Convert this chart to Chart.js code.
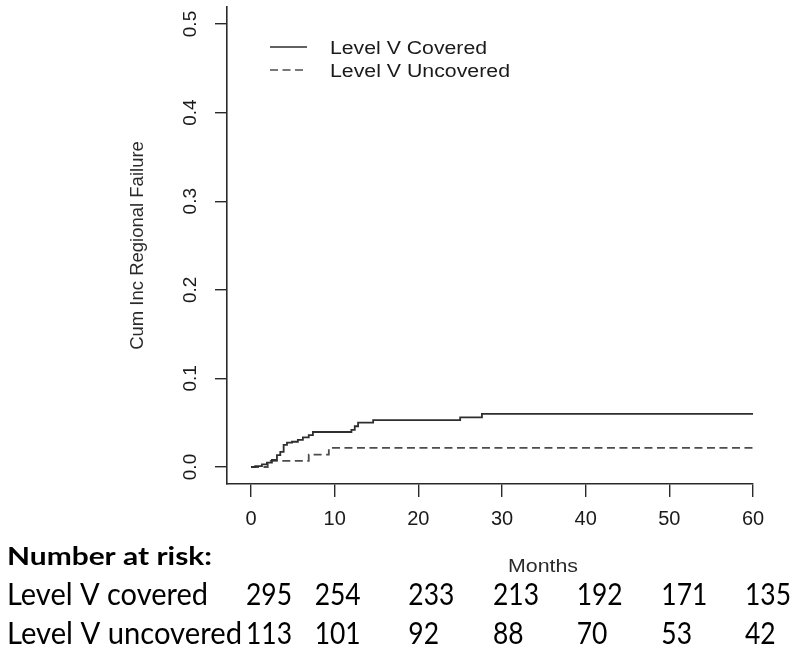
<!DOCTYPE html>
<html><head><meta charset="utf-8">
<script src="https://cdn.jsdelivr.net/npm/chart.js@4.4.1/dist/chart.umd.min.js"></script>
<style>html,body{margin:0;padding:0;background:#fff}#wrap{width:800px;height:661px}</style>
</head><body><div id="wrap"><canvas id="c" width="800" height="661"></canvas></div>
<script>
// ---- data ----
const coveredMonths = [0, 0.5, 1.3, 1.9, 2.5, 3.1, 3.5, 3.9, 4.3, 4.9, 5.6, 6.2, 6.9, 7.4, 12.0, 12.4, 12.8, 14.6, 25.0, 27.6, 60];
const coveredCif    = [0, 0.001, 0.003, 0.005, 0.008, 0.0135, 0.017, 0.025, 0.0275, 0.0285, 0.0305, 0.0335, 0.036, 0.0395, 0.042, 0.046, 0.050, 0.053, 0.056, 0.060, 0.060];
const uncoveredMonths = [0, 2.0, 6.9, 9.3, 60];
const uncoveredCif    = [0, 0.007, 0.014, 0.0215, 0.0215];
const xTickValues = [0, 10, 20, 30, 40, 50, 60];
const yTickValues = [0, 0.1, 0.2, 0.3, 0.4, 0.5];
const yTickLabels = ['0.0', '0.1', '0.2', '0.3', '0.4', '0.5'];
const seriesNames = ['Level V Covered', 'Level V Uncovered'];
const xTitle = 'Months';
const yTitle = 'Cum Inc Regional Failure';
const riskTitle = 'Number at risk:';
const riskRowLabels = ['Level V covered', 'Level V uncovered'];
const riskMonths = [0, 10, 20, 30, 40, 50, 60];
const riskCovered = [295, 254, 233, 213, 192, 171, 135];
const riskUncovered = [113, 101, 92, 88, 70, 53, 42];

// ---- layout / style (not data) ----
const riskColOffset = [-5, -20, -10, -9, -9, -8, -8];
const AX = '#2a2a2a';
const TABLE_FONT = '30px Lato, "Open Sans", sans-serif';

function toPts(xs, ys) { return xs.map((x, i) => ({ x: x, y: ys[i] })); }

function fitText(ctx, text, x, y, font, width, color) {
  ctx.save();
  ctx.font = font;
  ctx.fillStyle = color;
  ctx.textAlign = 'left';
  ctx.textBaseline = 'alphabetic';
  const w = ctx.measureText(text).width;
  const sx = width ? width / w : 1;
  ctx.translate(x, y);
  ctx.scale(sx, 1);
  ctx.fillText(text, 0, 0);
  ctx.restore();
}

const decor = {
  id: 'decor',
  afterDraw(chart) {
    const ctx = chart.ctx;
    const xs = chart.scales.x, ys = chart.scales.y;
    const ds = chart.data.datasets;
    // y tick labels (rotated, R style)
    ctx.save();
    ctx.fillStyle = '#1a1a1a';
    ctx.font = '19px "Liberation Sans", Arial, sans-serif';
    ctx.textAlign = 'center';
    ctx.textBaseline = 'middle';
    yTickValues.forEach((v, i) => {
      ctx.save();
      ctx.translate(191, ys.getPixelForValue(v));
      ctx.rotate(-Math.PI / 2);
      ctx.fillText(yTickLabels[i], 0, 0);
      ctx.restore();
    });
    // y title
    ctx.save();
    ctx.font = '18.5px "Liberation Sans", Arial, sans-serif';
    ctx.fillStyle = '#2a2a2a';
    ctx.translate(138, (chart.chartArea.top + chart.chartArea.bottom) / 2);
    ctx.rotate(-Math.PI / 2);
    ctx.fillText(yTitle, 0, 0);
    ctx.restore();
    ctx.restore();

    // legend
    const legY = [47, 70];
    const legW = [157, 180];
    const legBase = [54, 77];
    ds.forEach((d, i) => {
      ctx.save();
      ctx.strokeStyle = d.borderColor;
      ctx.lineWidth = 1.5;
      ctx.setLineDash(d.borderDash || []);
      ctx.beginPath();
      ctx.moveTo(270, legY[i]);
      ctx.lineTo(307, legY[i]);
      ctx.stroke();
      ctx.restore();
      fitText(ctx, seriesNames[i], 330, legBase[i], '18px "Liberation Sans", Arial, sans-serif', legW[i], '#1a1a1a');
    });

    // x title
    fitText(ctx, xTitle, 508, 572, '18.5px "Liberation Sans", Arial, sans-serif', 70, '#2a2a2a');

    // number at risk table
    fitText(ctx, riskTitle, 7, 565, 'bold 25px Lato, "Open Sans", sans-serif', 205, '#000');
    fitText(ctx, riskRowLabels[0], 7, 605, TABLE_FONT, 201, '#000');
    fitText(ctx, riskRowLabels[1], 7, 644, TABLE_FONT, 235, '#000');
    ctx.save();
    ctx.font = TABLE_FONT;
    const sx = 46 / ctx.measureText('295').width;
    ctx.restore();
    [riskCovered, riskUncovered].forEach((row, r) => {
      const base = r === 0 ? 605 : 644;
      row.forEach((n, j) => {
        const px = xs.getPixelForValue(riskMonths[j]) + riskColOffset[j];
        ctx.save();
        ctx.font = TABLE_FONT;
        const w = ctx.measureText(String(n)).width * sx;
        ctx.restore();
        fitText(ctx, String(n), px, base, TABLE_FONT, w, '#000');
      });
    });
  }
};

new Chart(document.getElementById('c'), {
  type: 'line',
  data: {
    datasets: [
      { label: seriesNames[0], data: toPts(coveredMonths, coveredCif), borderColor: '#2e2e2e', borderWidth: 1.8, stepped: true, pointRadius: 0, fill: false },
      { label: seriesNames[1], data: toPts(uncoveredMonths, uncoveredCif), borderColor: '#4c4c4c', borderWidth: 1.8, borderDash: [8, 4.5], stepped: true, pointRadius: 0, fill: false }
    ]
  },
  options: {
    responsive: false,
    animation: false,
    devicePixelRatio: 1,
    layout: { padding: { left: 0, top: 7, right: 47, bottom: 127 } },
    plugins: { legend: { display: false }, tooltip: { enabled: false } },
    scales: {
      x: {
        type: 'linear', min: -2.87, max: 60,
        afterBuildTicks: s => { s.ticks = xTickValues.map(v => ({ value: v })); },
        afterFit: s => { s.height = 50; },
        grid: { drawOnChartArea: false, drawTicks: true, tickLength: 13, color: AX, lineWidth: 1.4 },
        border: { display: true, color: AX, width: 1.6 },
        ticks: { color: '#1a1a1a', font: { family: '"Liberation Sans", Arial, sans-serif', size: 20 }, padding: 10, maxRotation: 0, autoSkip: false }
      },
      y: {
        type: 'linear', min: -0.0192, max: 0.5192,
        afterBuildTicks: s => { s.ticks = yTickValues.map(v => ({ value: v })); },
        afterFit: s => { s.width = 227; },
        grid: { drawOnChartArea: false, drawTicks: true, tickLength: 12, color: AX, lineWidth: 1.4 },
        border: { display: true, color: AX, width: 1.6 },
        ticks: { display: false }
      }
    }
  },
  plugins: [decor]
});
</script>
</body></html>
